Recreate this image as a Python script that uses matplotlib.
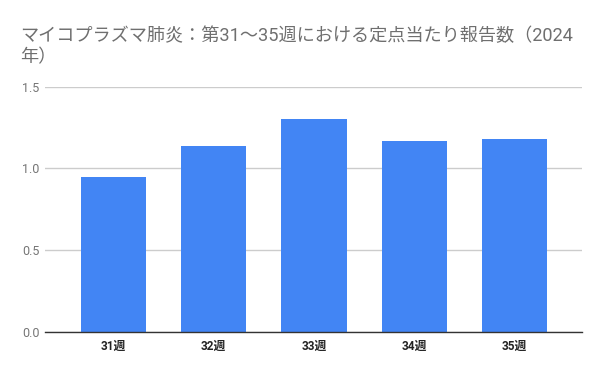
import matplotlib
matplotlib.use("Agg")
import matplotlib.pyplot as plt

weeks = ["31週", "32週", "33週", "34週", "35週"]
rates = [0.95, 1.14, 1.30, 1.17, 1.18]
yticks = [0.0, 0.5, 1.0, 1.5]
title = "マイコプラズマ肺炎：第31～35週における定点当たり報告数（2024\n年）"

fam = ["Roboto", "Noto Sans CJK JP", "DejaVu Sans"]
plt.rcParams["font.family"] = fam

fig = plt.figure(figsize=(6, 3.71), dpi=100)
ax = fig.add_axes([0.0755, 0.1051, 0.894, 0.6612])

x = list(range(len(weeks)))
ax.bar(x, rates, width=0.65, color="#4285F4", zorder=3)

ax.set_xlim(-0.68, 4.67)
ax.set_ylim(0, 1.5)
ax.set_yticks(yticks)
ax.set_yticklabels([f"{v:.1f}" for v in yticks], color="#757575", fontsize=9)
ax.set_xticks(x)
ax.set_xticklabels(weeks, fontsize=8.5, fontweight="bold", color="#222222")
ax.tick_params(axis="both", length=0)
ax.tick_params(axis="y", pad=4)
ax.tick_params(axis="x", pad=6)

ax.grid(axis="y", color="#cccccc", linewidth=1, zorder=0)
for s in ["top", "right", "left"]:
    ax.spines[s].set_visible(False)
ax.spines["bottom"].set_color("#333333")
ax.spines["bottom"].set_linewidth(1)
ax.spines["bottom"].set_zorder(4)

fig.text(20 / 600, 1 - 27 / 371, title, fontsize=13.1, color="#6f6f6f",
         ha="left", va="top", linespacing=1.22)

fig.savefig("out.png", dpi=100)
